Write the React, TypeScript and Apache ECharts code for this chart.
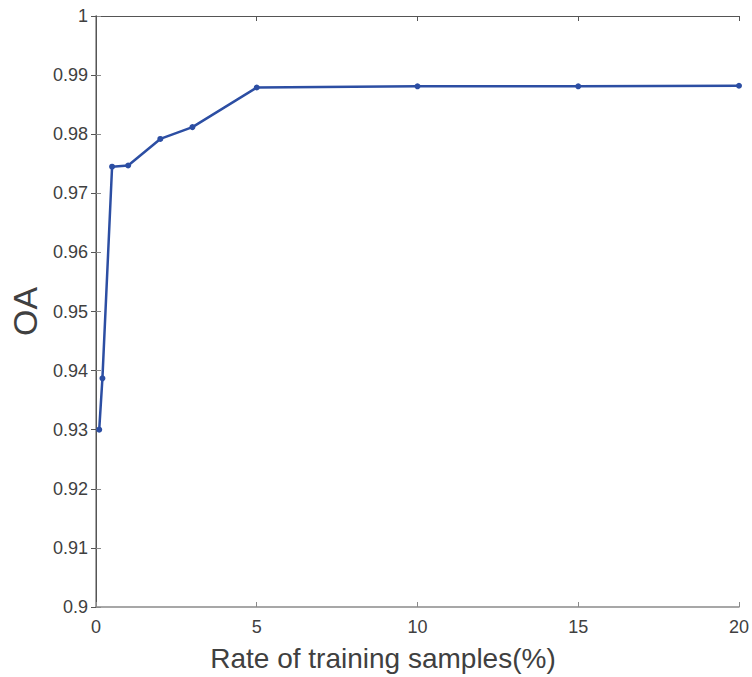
import React, { useEffect, useRef } from "react";
import * as echarts from "echarts";

const rates = [0.1, 0.2, 0.5, 1, 2, 3, 5, 10, 15, 20];
const oa = [0.93, 0.9387, 0.9745, 0.9747, 0.9792, 0.9812, 0.9879, 0.9881, 0.9881, 0.9882];
const xTicks = [0, 5, 10, 15, 20];
const yTickLabels = ["0.9", "0.91", "0.92", "0.93", "0.94", "0.95", "0.96", "0.97", "0.98", "0.99", "1"];

export default function App() {
  const ref = useRef<HTMLDivElement>(null);
  useEffect(() => {
    if (!ref.current) return;
    const chart = echarts.init(ref.current, undefined, { renderer: "svg" });
    const font = "'Liberation Sans', Arial, sans-serif";
    const axisColor = "#8a8a8a";
    const labelColor = "#404040";
    const fmtY = (v: number) => {
      const idx = Math.round((v - 0.9) / 0.01);
      return yTickLabels[idx] ?? "";
    };
    chart.setOption({
      animation: false,
      grid: { left: 96, right: 11, top: 16, bottom: 69, containLabel: false },
      xAxis: [
        {
          type: "value",
          min: 0,
          max: 20,
          interval: 5,
          name: "Rate of training samples(%)",
          nameLocation: "middle",
          nameGap: 37,
          nameTextStyle: { fontFamily: font, fontSize: 28, color: labelColor, padding: [0, 69, 0, 0] },
          axisLine: { show: true, lineStyle: { color: axisColor, width: 1.5 } },
          axisTick: { show: true, inside: true, length: 5, lineStyle: { color: axisColor } },
          axisLabel: {
            fontFamily: font,
            fontSize: 18,
            color: labelColor,
            margin: 11,
            formatter: (v: number) => (xTicks.includes(v) ? String(v) : ""),
          },
          splitLine: { show: false },
        },
        {
          type: "value",
          position: "top",
          min: 0,
          max: 20,
          interval: 5,
          axisLine: { show: true, lineStyle: { color: "#555", width: 1 } },
          axisTick: { show: true, inside: true, length: 5, lineStyle: { color: "#555" } },
          axisLabel: { show: false },
          splitLine: { show: false },
        },
      ],
      yAxis: [
        {
          type: "value",
          min: 0.9,
          max: 1,
          interval: 0.01,
          name: "OA",
          nameLocation: "middle",
          nameGap: 51,
          nameRotate: 90,
          nameTextStyle: { fontFamily: font, fontSize: 34, color: labelColor },
          axisLine: { show: true, lineStyle: { color: axisColor, width: 1.5 } },
          axisTick: { show: true, inside: true, length: 5, lineStyle: { color: axisColor } },
          axisLabel: { fontFamily: font, fontSize: 18, color: labelColor, margin: 8, formatter: fmtY },
          splitLine: { show: false },
        },
        {
          type: "value",
          position: "right",
          min: 0.9,
          max: 1,
          interval: 0.01,
          axisLine: { show: true, lineStyle: { color: "#555", width: 1 } },
          axisTick: { show: true, inside: true, length: 5, lineStyle: { color: "#555" } },
          axisLabel: { show: false },
          splitLine: { show: false },
        },
      ],
      series: [
        {
          type: "line",
          data: rates.map((r, i) => [r, oa[i]]),
          xAxisIndex: 0,
          yAxisIndex: 0,
          symbol: "circle",
          symbolSize: 6,
          lineStyle: { color: "#2c4ea3", width: 2.5 },
          itemStyle: { color: "#2c4ea3" },
        },
      ],
    });
    return () => chart.dispose();
  }, []);
  return <div ref={ref} style={{ width: 752, height: 677, position: "absolute", left: 0, top: 0 }} />;
}
